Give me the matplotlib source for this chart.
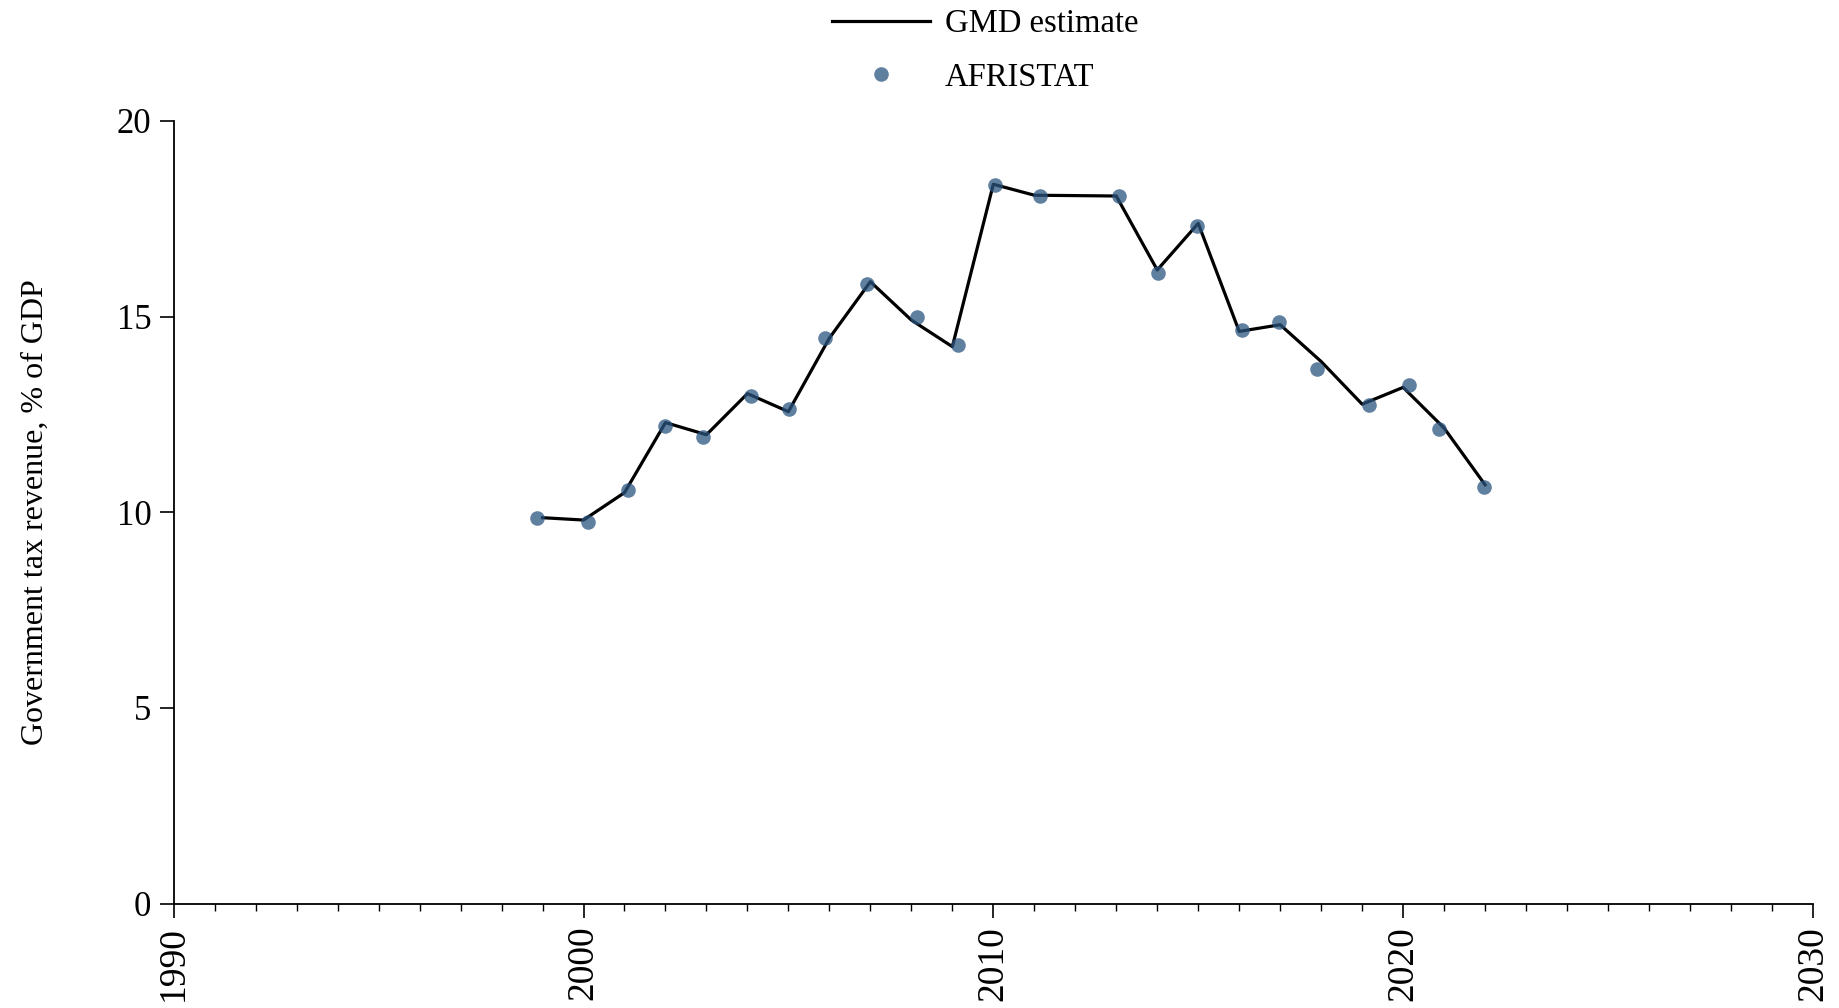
import matplotlib
matplotlib.use("Agg")
import matplotlib.pyplot as plt
import numpy as np
from matplotlib.ticker import MultipleLocator

plt.rcParams['font.family'] = ['Liberation Serif', 'DejaVu Serif']

# GMD estimate (line), one value per year
gmd_years = [1999, 2000, 2001, 2002, 2003, 2004, 2005, 2006, 2007, 2008, 2009, 2010,
             2011, 2012, 2013, 2014, 2015, 2016, 2017, 2018, 2019, 2020, 2021, 2022]
gmd_values = [9.86, 9.80, 10.50, 12.29, 11.98, 13.03, 12.57, 14.45, 15.89, 14.91, 14.23, 18.38,
              18.10, 18.09, 18.08, 16.19, 17.38, 14.62, 14.79, 13.85, 12.76, 13.19, 12.15, 10.70]

# AFRISTAT source points (slightly jittered along x)
afr_x = [1998.87, 2000.11, 2001.09, 2001.99, 2002.91, 2004.08, 2005.01, 2005.90, 2006.91,
         2008.13, 2009.13, 2010.05, 2011.13, 2013.07, 2014.02, 2014.98, 2016.07, 2016.97,
         2017.91, 2019.16, 2020.14, 2020.87, 2021.97]
afr_values = [9.86, 9.76, 10.56, 12.21, 11.92, 12.97, 12.64, 14.46, 15.83,
              15.00, 14.26, 18.36, 18.07, 18.07, 16.12, 17.32, 14.66, 14.85,
              13.66, 12.74, 13.24, 12.13, 10.65]

x_ticks = [1990, 2000, 2010, 2020, 2030]
y_ticks = [0, 5, 10, 15, 20]

fig = plt.figure(figsize=(18.4, 10.08), dpi=100)
ax = fig.add_axes([0.0944, 0.1036, 0.8909, 0.7765])

ax.plot(gmd_years, gmd_values, color='black', lw=2.3, label='GMD estimate', zorder=2)
ax.plot(afr_x, afr_values, linestyle='none', marker='o', markersize=10.5,
        color='#2b5580', alpha=0.75, markeredgewidth=0, label='AFRISTAT', zorder=3)

ax.set_xlim(1990, 2030)
ax.set_ylim(0, 20)
ax.set_xticks(x_ticks)
ax.set_yticks(y_ticks)
ax.xaxis.set_minor_locator(MultipleLocator(1))
ax.set_xticklabels([str(t) for t in x_ticks], rotation=90)

for side in ['top', 'right']:
    ax.spines[side].set_visible(False)
for side in ['left', 'bottom']:
    ax.spines[side].set_linewidth(1.3)

ax.tick_params(axis='both', which='major', direction='out', length=10, width=1.2, pad=6)
ax.tick_params(axis='y', which='major', labelsize=25)
ax.tick_params(axis='x', which='major', labelsize=27)
ax.tick_params(axis='x', which='minor', direction='out', length=5, width=1.0)

ax.set_ylabel('Government tax revenue, % of GDP', fontsize=23, labelpad=48)

ax.legend(loc='upper center', bbox_to_anchor=(0.495, 1.16), frameon=False, ncol=1,
          fontsize=23.5, handlelength=3.0, handletextpad=0.45, labelspacing=0.7,
          borderaxespad=0)

fig.savefig('out.png', dpi=100)
